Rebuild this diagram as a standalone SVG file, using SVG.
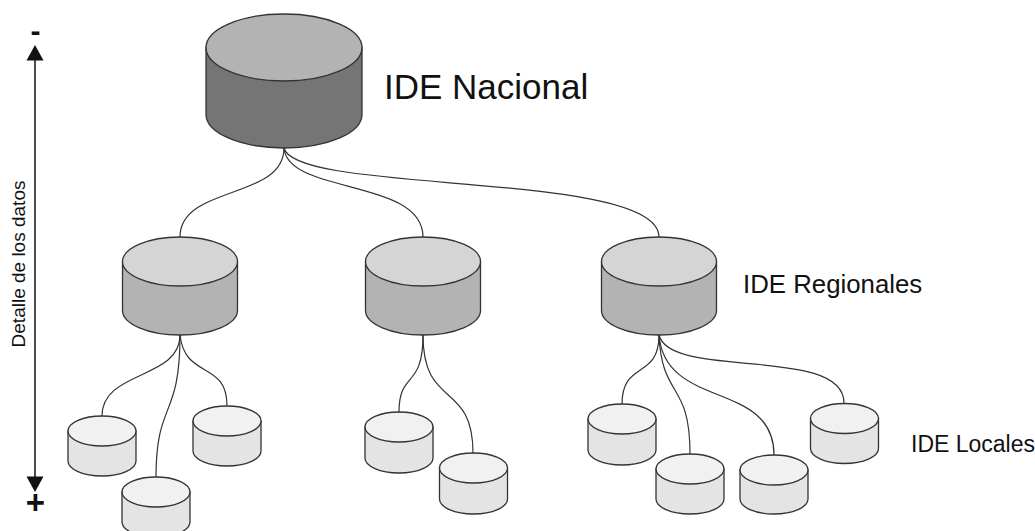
<svg xmlns="http://www.w3.org/2000/svg" width="1035" height="531" viewBox="0 0 1035 531">
<style>
  .cyl { stroke: #333333; stroke-width: 1.3; }
  .nat .body { fill: #757575; } .nat .top { fill: #b3b3b3; }
  .reg .body { fill: #b3b3b3; } .reg .top { fill: #d5d5d5; }
  .loc .body { fill: #e4e4e4; } .loc .top { fill: #f1f1f1; }
  .conn path { fill: none; stroke: #333333; stroke-width: 1.2; }
  .lbl { font-family: "Liberation Sans", Arial, sans-serif; fill: #111111; }
</style>
<rect width="1035" height="531" fill="#ffffff"/>

<g class="conn" id="connectors">
  <path d="M284,148 C284,200 180,185 180,237"/>
  <path d="M284,148 C288,195 423,178 423,237"/>
  <path d="M284,148 C295,195 659,170 659,237"/>
  <path d="M180,335 C180,380 102,370 102,416"/>
  <path d="M180,335 C180,420 156,400 156,477"/>
  <path d="M180,335 C185,380 227,360 227,406"/>
  <path d="M423,335 C423,390 399,370 399,412"/>
  <path d="M423,335 C423,410 473,380 473,453"/>
  <path d="M659,335 C659,380 622,360 622,404"/>
  <path d="M659,335 C662,400 690,380 690,454"/>
  <path d="M659,335 C665,410 774,380 774,455"/>
  <path d="M659,335 C670,380 844,345 844,403"/>
</g>

<g id="nacional" class="cyl nat">
  <path class="body" d="M206,47.5 L206,114.5 A78,33.5 0 0 0 362,114.5 L362,47.5 Z"/>
  <ellipse class="top" cx="284" cy="47.5" rx="78" ry="33.5"/>
</g>

<g id="regional1" class="cyl reg">
  <path class="body" d="M122.5,261.5 L122.5,310.5 A57.5,24.5 0 0 0 237.5,310.5 L237.5,261.5 Z"/>
  <ellipse class="top" cx="180" cy="261.5" rx="57.5" ry="24.5"/>
</g>
<g id="regional2" class="cyl reg">
  <path class="body" d="M365.5,261.5 L365.5,310.5 A57.5,24.5 0 0 0 480.5,310.5 L480.5,261.5 Z"/>
  <ellipse class="top" cx="423" cy="261.5" rx="57.5" ry="24.5"/>
</g>
<g id="regional3" class="cyl reg">
  <path class="body" d="M601.5,261.5 L601.5,310.5 A57.5,24.5 0 0 0 716.5,310.5 L716.5,261.5 Z"/>
  <ellipse class="top" cx="659" cy="261.5" rx="57.5" ry="24.5"/>
</g>

<g id="local1" class="cyl loc">
  <path class="body" d="M68,431 L68,461 A34,15 0 0 0 136,461 L136,431 Z"/>
  <ellipse class="top" cx="102" cy="431" rx="34" ry="15"/>
</g>
<g id="local2" class="cyl loc">
  <path class="body" d="M122,492 L122,522 A34,15 0 0 0 190,522 L190,492 Z"/>
  <ellipse class="top" cx="156" cy="492" rx="34" ry="15"/>
</g>
<g id="local3" class="cyl loc">
  <path class="body" d="M193,421 L193,451 A34,15 0 0 0 261,451 L261,421 Z"/>
  <ellipse class="top" cx="227" cy="421" rx="34" ry="15"/>
</g>
<g id="local4" class="cyl loc">
  <path class="body" d="M365,427 L365,458 A34,15 0 0 0 433,458 L433,427 Z"/>
  <ellipse class="top" cx="399" cy="427" rx="34" ry="15"/>
</g>
<g id="local5" class="cyl loc">
  <path class="body" d="M439.5,468 L439.5,499 A34,15 0 0 0 507.5,499 L507.5,468 Z"/>
  <ellipse class="top" cx="473.5" cy="468" rx="34" ry="15"/>
</g>
<g id="local6" class="cyl loc">
  <path class="body" d="M588,419 L588,450 A34,15 0 0 0 656,450 L656,419 Z"/>
  <ellipse class="top" cx="622" cy="419" rx="34" ry="15"/>
</g>
<g id="local7" class="cyl loc">
  <path class="body" d="M656,469 L656,499 A34,15 0 0 0 724,499 L724,469 Z"/>
  <ellipse class="top" cx="690" cy="469" rx="34" ry="15"/>
</g>
<g id="local8" class="cyl loc">
  <path class="body" d="M740,470 L740,499 A34,15 0 0 0 808,499 L808,470 Z"/>
  <ellipse class="top" cx="774" cy="470" rx="34" ry="15"/>
</g>
<g id="local9" class="cyl loc">
  <path class="body" d="M810.5,418.5 L810.5,448.5 A34,15 0 0 0 878.5,448.5 L878.5,418.5 Z"/>
  <ellipse class="top" cx="844.5" cy="418.5" rx="34" ry="15"/>
</g>

<g id="labels">
  <text class="lbl" x="384" y="98.5" font-size="35">IDE Nacional</text>
  <text class="lbl" x="743" y="293" font-size="25.8">IDE Regionales</text>
  <text class="lbl" x="911" y="451.5" font-size="23">IDE Locales</text>
</g>

<g id="axis">
  <line x1="35" y1="58" x2="35" y2="479" stroke="#111111" stroke-width="1.5"/>
  <polygon points="35,45 26.5,60.5 43.5,60.5" fill="#111111"/>
  <polygon points="35,492 26.5,476.5 43.5,476.5" fill="#111111"/>
  <text class="lbl" x="35.5" y="41" font-size="30" font-weight="bold" text-anchor="middle">-</text>
  <text class="lbl" x="35.5" y="514" font-size="33" font-weight="bold" text-anchor="middle">+</text>
  <text class="lbl" transform="translate(25,264) rotate(-90)" font-size="19" text-anchor="middle">Detalle de los datos</text>
</g>
</svg>
